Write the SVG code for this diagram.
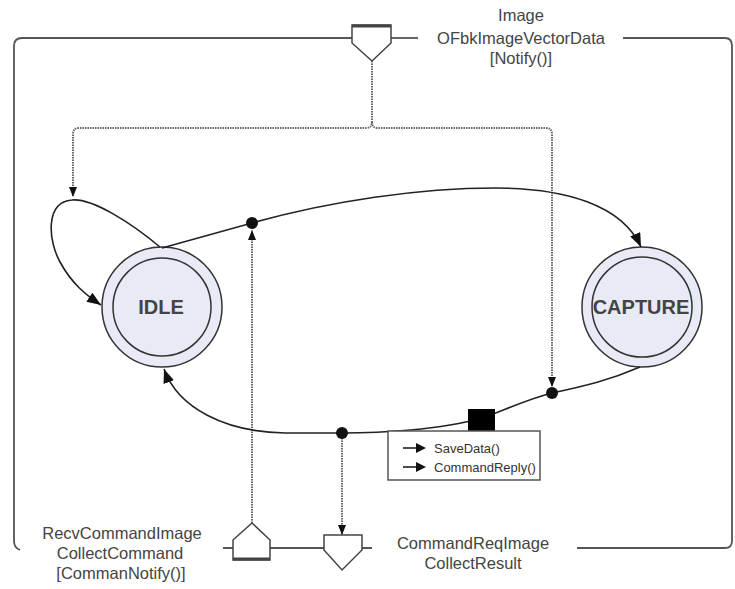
<svg xmlns="http://www.w3.org/2000/svg" width="735" height="589" viewBox="0 0 735 589">
<style>
.frame{fill:none;stroke:#555;stroke-width:1.8}
.port{fill:#fff;stroke:#444;stroke-width:1.5}
.tr{fill:none;stroke:#222;stroke-width:1.6}
.dot{fill:none;stroke:#666;stroke-width:2;stroke-dasharray:1.5 1}
.st{fill:#e8eaf6;stroke:#333;stroke-width:1.5}
.lbl{font-family:"Liberation Sans",Arial,sans-serif;font-size:16.5px;fill:#444;text-anchor:middle}
.sname{font-family:"Liberation Sans",Arial,sans-serif;font-size:20px;font-weight:bold;fill:#444;text-anchor:middle}
.act{font-family:"Liberation Sans",Arial,sans-serif;font-size:13px;fill:#333}
</style>
<defs>
<marker id="big" viewBox="0 0 14 11" refX="14" refY="5.5" markerWidth="14" markerHeight="11" markerUnits="userSpaceOnUse" orient="auto">
<path d="M0,0 L14,5.5 L0,11 Z" fill="#111"/>
</marker>
<marker id="small" viewBox="0 0 10 8" refX="10" refY="4" markerWidth="10" markerHeight="8" markerUnits="userSpaceOnUse" orient="auto">
<path d="M0,0 L10,4 L0,8 Z" fill="#111"/>
</marker>
</defs>
<g id="frame">
<path class="frame" d="M352,38 L22,38 Q14,38 14,46 L14,541 Q14,548 20,550"/>
<path class="frame" d="M391,38 L418,38"/>
<path class="frame" d="M623,38 L725,38 Q732,38 732,46 L732,541 Q732,548 725,548 L577,548"/>
<path class="frame" d="M223,548 L233,548 M270,548 L324,548 M362,548 L372,548"/>
</g>
<g id="port-image">
<path class="port" d="M352,25 L391,25 L391,43 L372,61 L352,43 Z"/>
<line x1="352" y1="26" x2="391" y2="26" stroke="#444" stroke-width="3"/>
<text class="lbl" x="521" y="21">Image</text>
<text class="lbl" x="521" y="44">OFbkImageVectorData</text>
<text class="lbl" x="521" y="64">[Notify()]</text>
</g>
<g id="port-recv">
<path class="port" d="M233,540 L252,523 L270,540 L270,560 L233,560 Z"/>
<line x1="233" y1="559" x2="270" y2="559" stroke="#444" stroke-width="3"/>
<text class="lbl" x="122" y="539">RecvCommandImage</text>
<text class="lbl" x="120" y="559">CollectCommand</text>
<text class="lbl" x="121" y="579">[CommanNotify()]</text>
</g>
<g id="port-result">
<path class="port" d="M324,535 L362,535 L362,550 L342,570 L324,550 Z"/>
<text class="lbl" x="473" y="549">CommandReqImage</text>
<text class="lbl" x="473" y="569">CollectResult</text>
</g>
<g id="idle">
<circle class="st" cx="162" cy="307" r="60"/>
<circle class="st" cx="162" cy="307" r="49"/>
<text class="sname" x="161" y="314">IDLE</text>
</g>
<g id="capture">
<circle class="st" cx="642" cy="307" r="60"/>
<circle class="st" cx="642" cy="307" r="50"/>
<text class="sname" x="641" y="314">CAPTURE</text>
</g>
<g id="connectors">
<path class="dot" d="M372,61 L372,122 Q372,128 366,128 L79,128 Q73,128 73,134 L73,197" marker-end="url(#small)"/>
<path class="dot" d="M372,122 Q372,128 378,128 L546,128 Q552,128 552,134 L552,387" marker-end="url(#small)"/>
<path class="dot" d="M252,523 L252,230" marker-end="url(#small)"/>
<path class="dot" d="M342,433 L342,535" marker-end="url(#small)"/>
<path class="tr" d="M160,247 C130,222 92,198 72,200 C45,202 48,240 60,262 C72,284 86,295 101,305" marker-end="url(#big)"/>
<path class="tr" d="M162,248 L252,223 C330,201 420,188 495,188 C565,188 622,205 641,247" marker-end="url(#big)"/>
<path class="tr" d="M640,367 C610,380 585,386 552,393 C525,400 505,410 482,418 C440,430 380,433 342,433 L285,433 C225,432 178,408 164,369" marker-end="url(#big)"/>
<circle cx="252" cy="223" r="6" fill="#111"/>
<circle cx="342" cy="433" r="6" fill="#111"/>
<circle cx="552" cy="393" r="6" fill="#111"/>
</g>
<g id="action">
<rect x="468" y="409" width="27" height="23" fill="#000"/>
<rect x="388" y="431" width="152" height="49" fill="#fff" stroke="#555" stroke-width="1.5"/>
<line x1="403" y1="448" x2="418" y2="448" stroke="#111" stroke-width="1.5"/>
<path d="M416,443 L426,448 L416,453 Z" fill="#111"/>
<line x1="403" y1="467" x2="418" y2="467" stroke="#111" stroke-width="1.5"/>
<path d="M416,462 L426,467 L416,472 Z" fill="#111"/>
<text class="act" x="434" y="453">SaveData()</text>
<text class="act" x="434" y="472">CommandReply()</text>
</g>
</svg>
